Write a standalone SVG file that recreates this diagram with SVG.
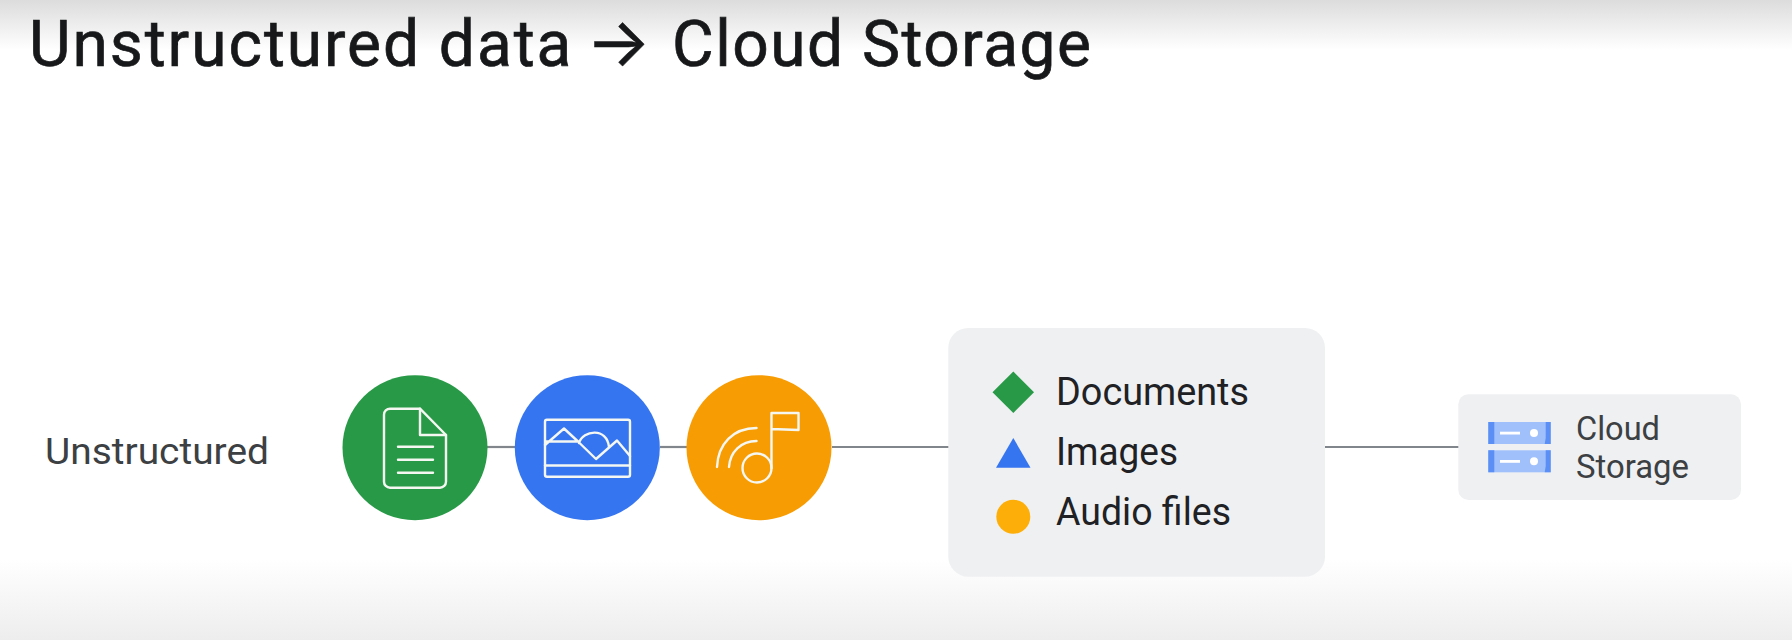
<svg xmlns="http://www.w3.org/2000/svg" width="1792" height="640" viewBox="0 0 1792 640">
<style>
text{font-family:"Roboto","Liberation Sans",sans-serif}
.ico{fill:none;stroke:#f4f7f2;stroke-width:2.4;stroke-linejoin:round;stroke-linecap:round}
.lbl{font-size:38px;fill:#202124}
.cs{font-size:33px;fill:#3c4043}
.panel{fill:#eff0f2}
.srv{fill:#a0c0fb}.srvd{fill:#5b8ff5}
</style>
<defs>
<linearGradient id="t" x1="0" y1="0" x2="0" y2="1"><stop offset="0" stop-color="#dcdcdc"/><stop offset="1" stop-color="#fff"/></linearGradient>
<linearGradient id="b" x1="0" y1="0" x2="0" y2="1"><stop offset="0" stop-color="#fff"/><stop offset="1" stop-color="#ededed"/></linearGradient>
</defs>
<rect width="1792" height="640" fill="#fff"/>
<rect width="1792" height="50" fill="url(#t)"/>
<rect y="560" width="1792" height="80" fill="url(#b)"/>
<text id="title" y="66" font-size="64" fill="#17181a" stroke="#17181a" stroke-width="0.7"><tspan x="29" letter-spacing="1.95">Unstructured data</tspan> <tspan x="586" style="font-family:'Inter',sans-serif" font-size="68" stroke-width="0.5">→</tspan> <tspan x="672" letter-spacing="1.5">Cloud Storage</tspan></text>
<text id="rowlabel" x="45" y="463.5" font-size="36" fill="#3c4043" textLength="224" lengthAdjust="spacingAndGlyphs">Unstructured</text>
<g id="connectors" stroke="#80868b" stroke-width="2.2" fill="none">
<line x1="487" y1="447" x2="516" y2="447"/>
<line x1="660" y1="447" x2="688" y2="447"/>
<line x1="832" y1="447" x2="949" y2="447"/>
<line x1="1325" y1="447" x2="1459" y2="447"/>
</g>
<g id="node-documents">
<circle cx="415" cy="447.7" r="72.5" fill="#289a47"/>
<path class="ico" d="M390 408.7H420L446 435V481.7a6 6 0 0 1-6 6H390a6 6 0 0 1-6-6V414.7a6 6 0 0 1 6-6Z"/>
<path class="ico" d="M420 408.7V435H446M398 446.7H433M398 459.7H433M398 472.7H433"/>
</g>
<g id="node-images">
<circle cx="587.3" cy="447.7" r="72.5" fill="#3675f0"/>
<rect class="ico" x="545" y="419.7" width="85" height="57" rx="2"/>
<path class="ico" d="M545 445L564 428.5L578 441.5H546M578 441.5L596 459L617 440.5L630 456M545 465.5H630M579 443C583 430 607 427 609 447"/>
</g>
<g id="node-audio">
<circle cx="759" cy="447.7" r="72.5" fill="#f79c03"/>
<circle class="ico" cx="757" cy="468" r="14.5"/>
<path class="ico" d="M771.5 468V413H798.5V430L771.5 429M717 467C718 444 733 428 756.5 428M729 467C730 452 741 441 756.5 441"/>
</g>
<g id="node-types">
<rect class="panel" x="948.3" y="328" width="376.7" height="248.7" rx="20"/>
<polygon points="1013.3,371.5 1034,392.3 1013.3,413 992.5,392.3" fill="#289a47"/>
<polygon points="1013.3,438 1030.5,467.7 996,467.7" fill="#3675f0"/>
<circle cx="1013.3" cy="516.7" r="17" fill="#fdae09"/>
<text class="lbl" x="1056" y="405" textLength="193" lengthAdjust="spacingAndGlyphs">Documents</text>
<text class="lbl" x="1056" y="465" textLength="122" lengthAdjust="spacingAndGlyphs">Images</text>
<text class="lbl" x="1056" y="525" textLength="175" lengthAdjust="spacingAndGlyphs">Audio files</text>
</g>
<g id="node-cloud-storage">
<rect class="panel" x="1458.3" y="394.3" width="282.7" height="105.7" rx="10"/>
<rect class="srv" x="1488.3" y="422" width="62.4" height="22"/>
<rect class="srv" x="1488.3" y="450.3" width="62.4" height="22"/>
<path class="srvd" d="M1488.3 422h6v22h-6ZM1550.7 422v22h-6l1-6 0-16ZM1488.3 450.3h6v22h-6ZM1550.7 450.3v22h-6l1-6 0-16Z"/>
<g fill="#fff"><rect x="1500" y="431.7" width="20" height="2.8"/><circle cx="1534" cy="433" r="4"/><rect x="1500" y="460" width="20" height="2.8"/><circle cx="1534" cy="461.3" r="4"/></g>
<text class="cs" x="1576" y="440" textLength="84" lengthAdjust="spacingAndGlyphs">Cloud</text>
<text class="cs" x="1576" y="478" textLength="113" lengthAdjust="spacingAndGlyphs">Storage</text>
</g>
</svg>
